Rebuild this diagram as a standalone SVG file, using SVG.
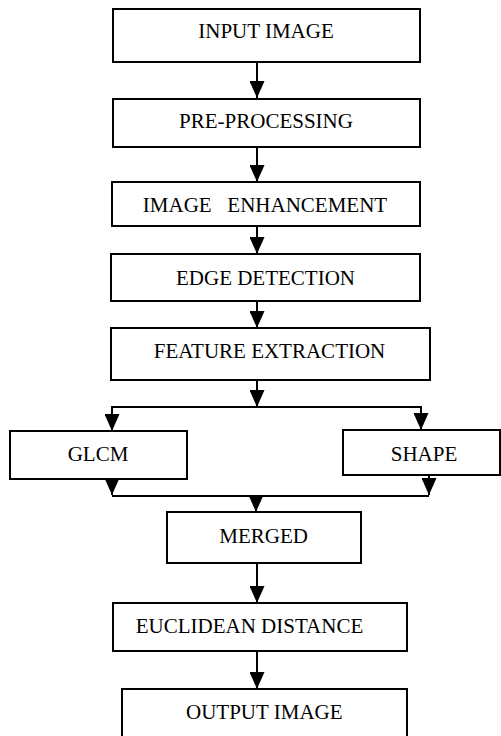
<svg xmlns="http://www.w3.org/2000/svg" width="501" height="736" viewBox="0 0 501 736">
<defs>
<marker id="ah" markerWidth="17" markerHeight="15" refX="17" refY="7.5" orient="auto" markerUnits="userSpaceOnUse">
<path d="M0,0 L17,7.5 L0,15 Z" fill="#000"/>
</marker>
<style>
.box{fill:#fff;stroke:#000;stroke-width:2}
.lbl{font-family:"Liberation Serif","Times New Roman",serif;font-size:21px;fill:#000;text-anchor:middle;white-space:pre}
.ln{fill:none;stroke:#000;stroke-width:2}
.arr{fill:none;stroke:#000;stroke-width:2;marker-end:url(#ah)}
</style>
</defs>
<rect width="501" height="736" fill="#fff"/>
<g id="connectors">
<line class="arr" x1="257" y1="62" x2="257" y2="98"/>
<line class="arr" x1="257" y1="147" x2="257" y2="182"/>
<line class="arr" x1="257" y1="226" x2="257" y2="254"/>
<line class="arr" x1="257" y1="301" x2="257" y2="328"/>
<line class="arr" x1="257" y1="380" x2="257" y2="407"/>
<polyline class="ln" points="112,431 112,407 421,407 421,430"/>
<line class="arr" x1="112" y1="407" x2="112" y2="431"/>
<line class="arr" x1="421" y1="407" x2="421" y2="430"/>
<line class="arr" x1="112" y1="479" x2="112" y2="495"/>
<line class="arr" x1="429" y1="475" x2="429" y2="495"/>
<line class="ln" x1="112" y1="496" x2="429" y2="496"/>
<line class="arr" x1="256" y1="496" x2="256" y2="512"/>
<line class="arr" x1="257" y1="563" x2="257" y2="603"/>
<line class="arr" x1="257" y1="651" x2="257" y2="689"/>
</g>
<g id="input-image"><rect class="box" x="113" y="9" width="307" height="53"/><text class="lbl" x="266" y="38">INPUT IMAGE</text></g>
<g id="pre-processing"><rect class="box" x="113" y="99" width="307" height="48"/><text class="lbl" x="266" y="128">PRE-PROCESSING</text></g>
<g id="image-enhancement"><rect class="box" x="112" y="182" width="308" height="44"/><text class="lbl" x="265" y="212">IMAGE   ENHANCEMENT</text></g>
<g id="edge-detection"><rect class="box" x="111" y="254" width="309" height="47"/><text class="lbl" x="265.5" y="285">EDGE DETECTION</text></g>
<g id="feature-extraction"><rect class="box" x="111" y="328" width="319" height="52"/><text class="lbl" x="269.5" y="358">FEATURE EXTRACTION</text></g>
<g id="glcm"><rect class="box" x="10" y="431" width="177" height="48"/><text class="lbl" x="98" y="461">GLCM</text></g>
<g id="shape"><rect class="box" x="343" y="430" width="157" height="45"/><text class="lbl" x="424" y="461">SHAPE</text></g>
<g id="merged"><rect class="box" x="167" y="512" width="194" height="51"/><text class="lbl" x="263.7" y="543">MERGED</text></g>
<g id="euclidean-distance"><rect class="box" x="113" y="603" width="294" height="48"/><text class="lbl" x="249.5" y="633">EUCLIDEAN DISTANCE</text></g>
<g id="output-image"><rect class="box" x="122" y="689" width="285" height="60"/><text class="lbl" x="264.3" y="719">OUTPUT IMAGE</text></g>
</svg>
